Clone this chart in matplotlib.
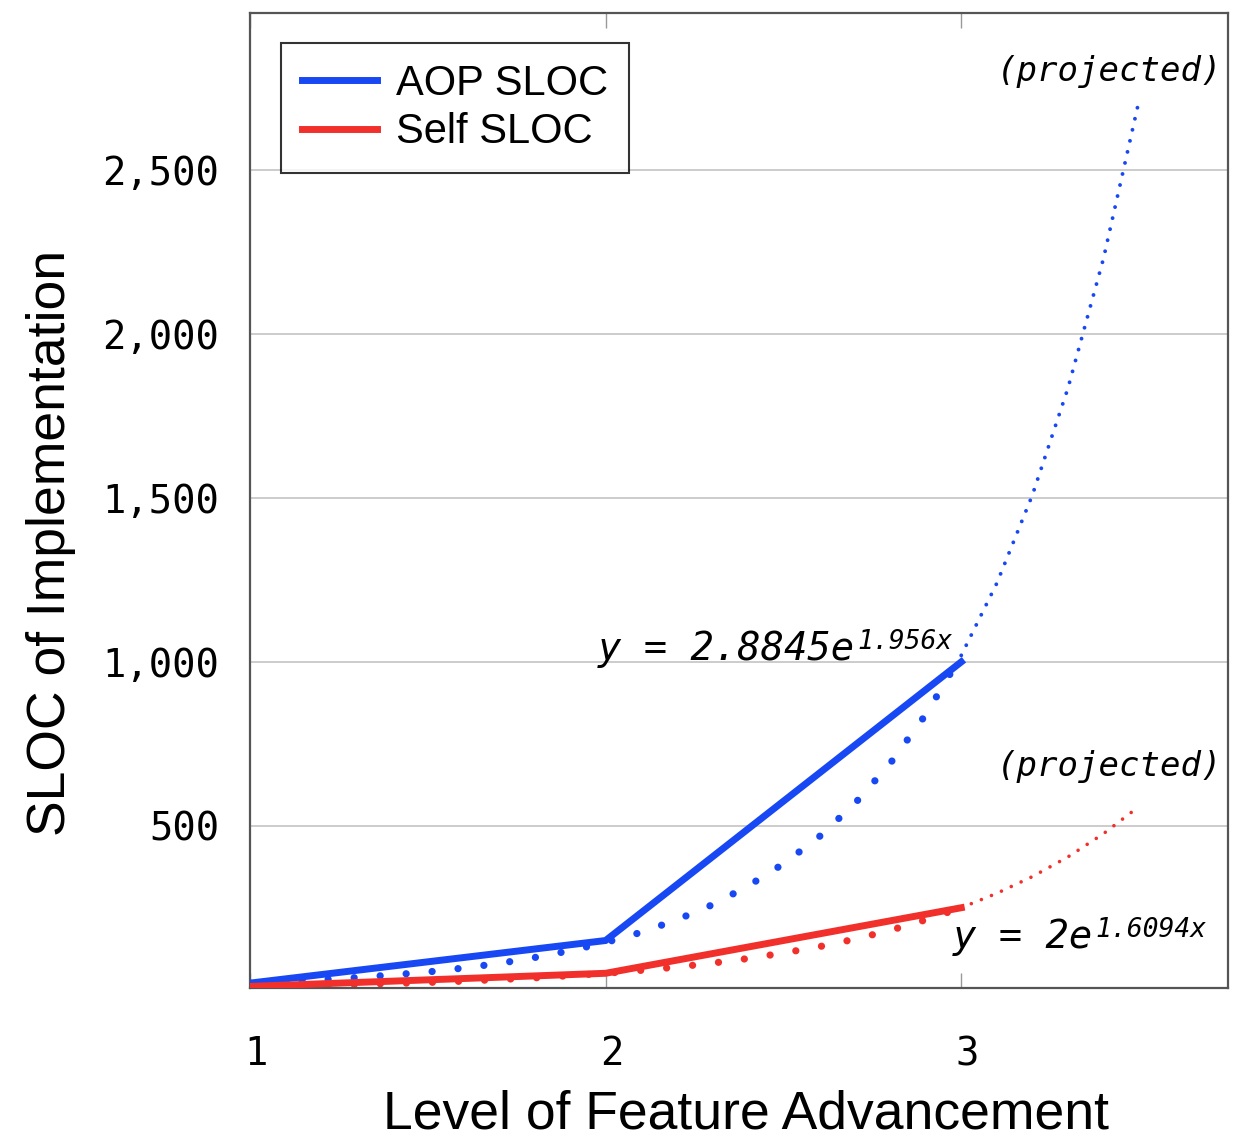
import matplotlib.pyplot as plt
import matplotlib.transforms as mtransforms

# Mesures (niveau de fonctionnalite -> SLOC)
niveaux = [1, 2, 3]
aop_sloc = [20, 150, 1000]
self_sloc = [10, 50, 250]

x_tendance = [1.0, 1.1, 1.2, 1.3, 1.4, 1.5, 1.6, 1.7, 1.8, 1.9, 2.0,
              2.1, 2.2, 2.3, 2.4, 2.5, 2.6, 2.7, 2.8, 2.9, 3.0]
aop_tendance = [20, 25, 30, 37, 45, 54, 66, 80, 98, 119, 144,
                175, 213, 259, 316, 384, 466, 567, 690, 839, 1020]
self_tendance = [10, 12, 14, 16, 19, 22, 26, 31, 36, 43, 50,
                 59, 69, 81, 95, 112, 131, 154, 181, 213, 250]

# Partie projetee (3 -> 3.5)
x_projete = [3.0, 3.1, 3.2, 3.3, 3.4, 3.5]
aop_projete = [1020, 1240, 1509, 1835, 2231, 2713]
self_projete = [250, 294, 345, 405, 476, 559]

yticks = [500, 1000, 1500, 2000, 2500]
ytick_labels = ['500', '1,000', '1,500', '2,000', '2,500']

bleu = '#1748f4'
rouge = '#f2302b'
mono = 'DejaVu Sans Mono'
sans = 'Liberation Sans'

fig = plt.figure(figsize=(12.43, 11.40), dpi=100)
ax = fig.add_axes([0.2011, 0.1333, 0.7868, 0.8553])

# Grille horizontale
for v in yticks:
    ax.axhline(v, color='#c4c4c4', lw=1.2, zorder=0)

# Tendances en pointilles (gros points)
ax.plot(x_tendance, aop_tendance, color=bleu, lw=5.2, linestyle=(0, (0.01, 3.6)),
        dash_capstyle='round', zorder=2)
ax.plot(x_tendance, self_tendance, color=rouge, lw=5.2, linestyle=(0, (0.01, 3.6)),
        dash_capstyle='round', zorder=2)

# Projections (petits points)
ax.plot(x_projete, aop_projete, color=bleu, lw=2.8, linestyle=(0, (0.01, 2.9)),
        dash_capstyle='round', zorder=2)
ax.plot(x_projete, self_projete, color=rouge, lw=2.6, linestyle=(0, (0.01, 3.0)),
        dash_capstyle='round', zorder=2)

# Series mesurees
ax.plot(niveaux, aop_sloc, color=bleu, lw=5, label='AOP SLOC', zorder=3)
ax.plot(niveaux, self_sloc, color=rouge, lw=5, label='Self SLOC', zorder=3)

ax.set_xlim(1, 3.75)
ax.set_ylim(5, 2980)

ax.set_xticks(niveaux)
ax.set_xticklabels([str(n) for n in niveaux], fontfamily=mono, fontsize=28)
ax.set_yticks(yticks)
ax.set_yticklabels(ytick_labels, fontfamily=mono, fontsize=28)
ax.tick_params(axis='x', direction='in', length=11, width=1, color='#999999',
               top=True, pad=34)
ax.tick_params(axis='y', length=0, pad=22)

# petit decalage des etiquettes x vers la droite
decalage = mtransforms.ScaledTranslation(6 / 100, 0, fig.dpi_scale_trans)
for lbl in ax.get_xticklabels():
    lbl.set_transform(lbl.get_transform() + decalage)

for s in ax.spines.values():
    s.set_color('#555555')
    s.set_linewidth(1.6)

ax.set_xlabel('Level of Feature Advancement', fontfamily=sans, fontsize=38.5)
ax.set_ylabel('SLOC of Implementation', fontfamily=sans, fontsize=38.5)
ax.xaxis.set_label_coords(0.507, -0.104)
ax.yaxis.set_label_coords(-0.178, 0.457)

# Equations des tendances
ax.text(1.978, 1006, 'y = 2.8845e', fontfamily=mono, style='italic',
        fontsize=28, ha='left', va='baseline')
ax.text(2.707, 1040, '1.956x', fontfamily=mono, style='italic',
        fontsize=19, ha='left', va='baseline')
ax.text(2.975, 128, 'y = 2e', fontfamily=mono, style='italic',
        fontsize=28, ha='left', va='baseline')
ax.text(3.378, 162, '1.6094x', fontfamily=mono, style='italic',
        fontsize=19, ha='left', va='baseline')

ax.text(3.733, 2774, '(projected)', fontfamily=mono, style='italic',
        fontsize=24.5, ha='right', va='baseline')
ax.text(3.733, 652, '(projected)', fontfamily=mono, style='italic',
        fontsize=24.5, ha='right', va='baseline')

leg = ax.legend(loc='upper left', bbox_to_anchor=(0.032, 0.969),
                borderaxespad=0,
                prop={'family': sans, 'size': 30},
                frameon=True, fancybox=False, edgecolor='black',
                handlelength=1.8, handletextpad=0.45, borderpad=0.5,
                labelspacing=0.2)
leg.get_frame().set_linewidth(1.5)
for h in leg.get_lines():
    h.set_linewidth(5)

plt.savefig('out.png', dpi=100)
plt.close()
